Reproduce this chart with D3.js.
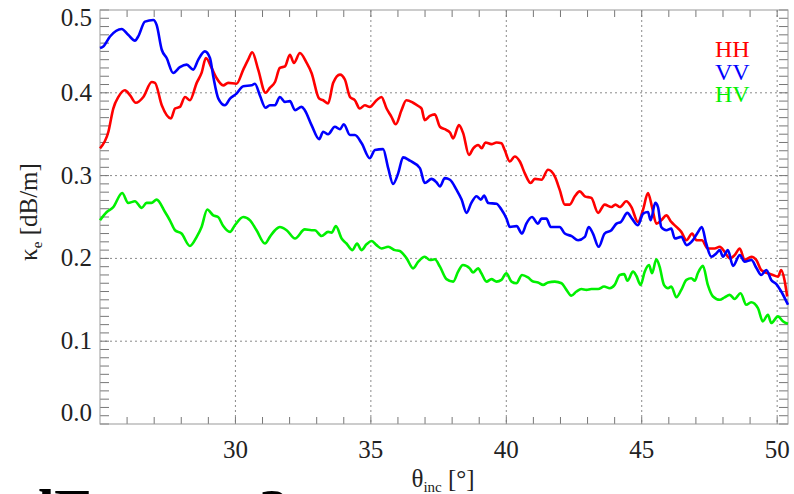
<!DOCTYPE html>
<html>
<head>
<meta charset="utf-8">
<script src="https://cdn.jsdelivr.net/npm/d3@7"></script>
<style>
  html, body { margin: 0; padding: 0; background: #fff; }
  svg { display: block; font-family: "Liberation Serif", "DejaVu Serif", serif; }
</style>
</head>
<body>
<script>
  // incidence angle [deg] / extinction coefficient [dB/m] pairs
  const hh = [
    [25.00, 0.333], [25.31, 0.353], [25.49, 0.381], [25.68, 0.395], [25.92, 0.403], [26.11, 0.397],
    [26.32, 0.388], [26.60, 0.395], [26.91, 0.413], [27.03, 0.412], [27.28, 0.385], [27.62, 0.369],
    [27.77, 0.381], [27.95, 0.383], [28.14, 0.395], [28.32, 0.391], [28.57, 0.412], [28.75, 0.424],
    [28.91, 0.442], [29.12, 0.430], [29.30, 0.418], [29.55, 0.409], [29.73, 0.412], [30.04, 0.411],
    [30.29, 0.428], [30.47, 0.440], [30.62, 0.449], [30.84, 0.428], [31.11, 0.400], [31.27, 0.406],
    [31.46, 0.413], [31.64, 0.430], [31.83, 0.432], [32.01, 0.446], [32.16, 0.436], [32.38, 0.448],
    [32.63, 0.436], [32.81, 0.424], [33.09, 0.393], [33.24, 0.391], [33.42, 0.387], [33.61, 0.412],
    [33.86, 0.422], [34.04, 0.416], [34.23, 0.395], [34.41, 0.391], [34.59, 0.381], [34.78, 0.385],
    [34.96, 0.383], [35.21, 0.391], [35.39, 0.395], [35.58, 0.381], [35.76, 0.371], [35.92, 0.362],
    [36.13, 0.379], [36.31, 0.391], [36.56, 0.388], [36.75, 0.384], [36.87, 0.381], [36.99, 0.367],
    [37.18, 0.372], [37.36, 0.374], [37.55, 0.359], [37.73, 0.356], [37.92, 0.352], [38.04, 0.345],
    [38.25, 0.361], [38.41, 0.351], [38.62, 0.325], [38.78, 0.333], [38.96, 0.337], [39.09, 0.333],
    [39.23, 0.340], [39.45, 0.338], [39.64, 0.340], [39.82, 0.339], [39.94, 0.331], [40.13, 0.317],
    [40.31, 0.323], [40.50, 0.317], [40.68, 0.303], [40.90, 0.291], [41.05, 0.296], [41.30, 0.295],
    [41.54, 0.307], [41.79, 0.299], [41.97, 0.283], [42.16, 0.265], [42.34, 0.265], [42.53, 0.275],
    [42.71, 0.281], [42.90, 0.275], [43.14, 0.273], [43.39, 0.255], [43.63, 0.265], [43.88, 0.262],
    [44.03, 0.265], [44.19, 0.262], [44.43, 0.269], [44.62, 0.262], [44.86, 0.244], [45.05, 0.259],
    [45.23, 0.279], [45.38, 0.262], [45.54, 0.242], [45.72, 0.246], [45.91, 0.252], [46.09, 0.244],
    [46.28, 0.238], [46.46, 0.232], [46.65, 0.222], [46.86, 0.230], [47.02, 0.222], [47.22, 0.222],
    [47.44, 0.212], [47.69, 0.212], [47.88, 0.214], [48.06, 0.208], [48.25, 0.200], [48.43, 0.204],
    [48.62, 0.212], [48.80, 0.198], [49.05, 0.202], [49.23, 0.198], [49.41, 0.186], [49.66, 0.182],
    [49.84, 0.180], [50.03, 0.178], [50.15, 0.186], [50.27, 0.174], [50.37, 0.154]
  ];

  const vv = [
    [25.00, 0.454], [25.12, 0.456], [25.37, 0.468], [25.80, 0.477], [26.04, 0.470], [26.29, 0.463],
    [26.41, 0.468], [26.66, 0.486], [26.97, 0.488], [27.09, 0.482], [27.28, 0.452], [27.46, 0.442],
    [27.70, 0.424], [27.95, 0.431], [28.20, 0.434], [28.44, 0.428], [28.63, 0.440], [28.87, 0.450],
    [29.06, 0.442], [29.18, 0.420], [29.37, 0.393], [29.61, 0.385], [29.80, 0.393], [30.04, 0.399],
    [30.29, 0.408], [30.60, 0.409], [30.72, 0.411], [30.90, 0.397], [31.11, 0.382], [31.27, 0.385],
    [31.46, 0.385], [31.64, 0.395], [31.83, 0.389], [32.01, 0.390], [32.20, 0.379], [32.44, 0.383],
    [32.56, 0.379], [32.81, 0.361], [33.09, 0.344], [33.24, 0.353], [33.42, 0.350], [33.67, 0.359],
    [33.86, 0.356], [34.00, 0.362], [34.23, 0.349], [34.41, 0.349], [34.66, 0.339], [34.96, 0.321],
    [35.15, 0.331], [35.45, 0.332], [35.64, 0.309], [35.82, 0.290], [36.01, 0.303], [36.19, 0.322],
    [36.44, 0.318], [36.81, 0.309], [36.99, 0.291], [37.24, 0.296], [37.42, 0.292], [37.55, 0.287],
    [37.73, 0.297], [37.92, 0.295], [38.16, 0.283], [38.35, 0.271], [38.53, 0.255], [38.71, 0.267],
    [38.90, 0.275], [39.06, 0.271], [39.18, 0.276], [39.33, 0.267], [39.64, 0.266], [39.82, 0.259],
    [40.01, 0.248], [40.13, 0.238], [40.38, 0.239], [40.58, 0.230], [40.74, 0.242], [40.95, 0.250],
    [41.17, 0.242], [41.30, 0.248], [41.48, 0.248], [41.64, 0.238], [41.97, 0.238], [42.16, 0.230],
    [42.41, 0.227], [42.65, 0.222], [42.90, 0.226], [43.04, 0.238], [43.20, 0.230], [43.41, 0.214],
    [43.63, 0.230], [43.88, 0.234], [44.07, 0.242], [44.23, 0.244], [44.47, 0.255], [44.64, 0.248],
    [44.86, 0.240], [45.05, 0.254], [45.23, 0.256], [45.33, 0.246], [45.50, 0.267], [45.60, 0.262],
    [45.72, 0.238], [45.91, 0.234], [46.09, 0.236], [46.22, 0.224], [46.46, 0.226], [46.66, 0.216],
    [46.89, 0.222], [47.08, 0.232], [47.22, 0.238], [47.38, 0.218], [47.57, 0.202], [47.75, 0.206],
    [47.88, 0.210], [48.00, 0.202], [48.18, 0.210], [48.37, 0.191], [48.62, 0.204], [48.80, 0.196],
    [49.05, 0.198], [49.24, 0.188], [49.41, 0.180], [49.60, 0.186], [49.78, 0.174], [49.97, 0.169],
    [50.15, 0.160], [50.40, 0.144]
  ];

  const hv = [
    [25.00, 0.246], [25.25, 0.256], [25.49, 0.262], [25.82, 0.279], [26.04, 0.267], [26.29, 0.269],
    [26.54, 0.261], [26.72, 0.267], [26.90, 0.267], [27.09, 0.271], [27.40, 0.256], [27.58, 0.246],
    [27.77, 0.234], [28.01, 0.230], [28.32, 0.215], [28.57, 0.226], [28.75, 0.238], [28.96, 0.259],
    [29.18, 0.252], [29.36, 0.250], [29.55, 0.239], [29.80, 0.232], [29.98, 0.240], [30.29, 0.250],
    [30.54, 0.246], [30.78, 0.234], [31.09, 0.218], [31.27, 0.226], [31.46, 0.234], [31.64, 0.238],
    [31.89, 0.234], [32.20, 0.224], [32.56, 0.235], [32.81, 0.234], [32.93, 0.234], [33.18, 0.227],
    [33.42, 0.232], [33.55, 0.231], [33.71, 0.239], [33.92, 0.224], [34.10, 0.218], [34.32, 0.210],
    [34.49, 0.218], [34.65, 0.210], [34.84, 0.217], [35.03, 0.221], [35.21, 0.216], [35.39, 0.212],
    [35.64, 0.214], [35.89, 0.210], [36.07, 0.209], [36.32, 0.200], [36.56, 0.188], [36.75, 0.196],
    [36.99, 0.202], [37.18, 0.198], [37.36, 0.199], [37.55, 0.190], [37.79, 0.175], [38.04, 0.172],
    [38.22, 0.184], [38.40, 0.192], [38.65, 0.188], [38.77, 0.183], [38.96, 0.188], [39.08, 0.182],
    [39.27, 0.172], [39.45, 0.175], [39.64, 0.172], [39.82, 0.174], [40.00, 0.182], [40.19, 0.172],
    [40.37, 0.170], [40.58, 0.180], [40.80, 0.177], [40.99, 0.172], [41.17, 0.171], [41.36, 0.168],
    [41.54, 0.171], [41.79, 0.172], [42.04, 0.170], [42.22, 0.162], [42.40, 0.155], [42.59, 0.160],
    [42.77, 0.163], [42.96, 0.162], [43.14, 0.163], [43.39, 0.163], [43.61, 0.166], [43.82, 0.164],
    [44.00, 0.168], [44.19, 0.180], [44.35, 0.181], [44.47, 0.173], [44.68, 0.184], [44.80, 0.179],
    [44.96, 0.168], [45.11, 0.184], [45.27, 0.192], [45.38, 0.182], [45.54, 0.199], [45.66, 0.190],
    [45.82, 0.168], [45.97, 0.164], [46.09, 0.166], [46.28, 0.153], [46.46, 0.162], [46.65, 0.174],
    [46.83, 0.176], [46.96, 0.173], [47.07, 0.182], [47.26, 0.191], [47.44, 0.168], [47.63, 0.154],
    [47.88, 0.150], [48.06, 0.153], [48.25, 0.156], [48.43, 0.151], [48.65, 0.158], [48.86, 0.144],
    [49.04, 0.147], [49.29, 0.140], [49.47, 0.124], [49.66, 0.132], [49.78, 0.122], [50.03, 0.130],
    [50.21, 0.124], [50.40, 0.121]
  ];

  const xMajor = [30, 35, 40, 45, 50];
  const yMajor = [0.0, 0.1, 0.2, 0.3, 0.4, 0.5];
  const yTickLabels = ["0.0", "0.1", "0.2", "0.3", "0.4", "0.5"];

  const series = [
    { name: "HH", values: hh, color: "#ff0000" },
    { name: "VV", values: vv, color: "#0000ff" },
    { name: "HV", values: hv, color: "#00f000" }
  ];

  const width = 794;
  const height = 494;
  const plotL = 100, plotR = 788, plotT = 10, plotB = 424;

  const x = d3.scaleLinear().domain([25, 50.4]).range([plotL, plotR]);
  const y = d3.scaleLinear().domain([0, 0.5]).range([plotB, plotT]);

  const svg = d3.select("body").append("svg")
    .attr("width", width)
    .attr("height", height);

  // dotted grid
  const grid = svg.append("g").attr("stroke", "#8a8a8a").attr("stroke-width", 1)
    .attr("stroke-dasharray", "2,3");
  grid.selectAll("line.gx").data(xMajor).enter().append("line")
    .attr("x1", (d) => x(d)).attr("x2", (d) => x(d))
    .attr("y1", plotT).attr("y2", plotB);
  grid.selectAll("line.gy").data(yMajor.slice(1, 5)).enter().append("line")
    .attr("x1", plotL).attr("x2", plotR)
    .attr("y1", (d) => y(d)).attr("y2", (d) => y(d));

  // minor ticks, inward, on all four sides
  const ticks = svg.append("g").attr("stroke", "#777").attr("stroke-width", 1);
  const yMinor = d3.range(0, 51).map((i) => i / 100);
  const xMinor = d3.range(26, 51);
  ticks.selectAll("line.yl").data(yMinor).enter().append("line")
    .attr("x1", plotL).attr("x2", plotL + 9)
    .attr("y1", (d) => y(d)).attr("y2", (d) => y(d));
  ticks.selectAll("line.yr").data(yMinor).enter().append("line")
    .attr("x1", plotR - 9).attr("x2", plotR)
    .attr("y1", (d) => y(d)).attr("y2", (d) => y(d));
  ticks.selectAll("line.xb").data(xMinor).enter().append("line")
    .attr("x1", (d) => x(d)).attr("x2", (d) => x(d))
    .attr("y1", plotB).attr("y2", plotB - 7);
  ticks.selectAll("line.xt").data(xMinor).enter().append("line")
    .attr("x1", (d) => x(d)).attr("x2", (d) => x(d))
    .attr("y1", plotT).attr("y2", plotT + 7);

  // frame
  svg.append("rect")
    .attr("x", plotL).attr("y", plotT)
    .attr("width", plotR - plotL).attr("height", plotB - plotT)
    .attr("fill", "none").attr("stroke", "#999").attr("stroke-width", 1);

  // curves
  const line = d3.line()
    .x((d) => x(d[0]))
    .y((d) => y(d[1]))
    .curve(d3.curveMonotoneX);

  svg.append("g").selectAll("path").data(series).enter().append("path")
    .attr("d", (d) => line(d.values))
    .attr("fill", "none")
    .attr("stroke", (d) => d.color)
    .attr("stroke-width", 2.6)
    .attr("stroke-linejoin", "round");

  // y tick labels (edge labels sit inside the frame like the original)
  svg.append("g").selectAll("text").data(yMajor).enter().append("text")
    .attr("x", 92)
    .attr("y", (d, i) => y(d) + 8 + (i === 0 ? -11 : 0) + (i === 5 ? 8 : 0))
    .attr("text-anchor", "end")
    .attr("font-size", 25)
    .attr("fill", "#222")
    .text((d, i) => yTickLabels[i]);

  // x tick labels
  svg.append("g").selectAll("text").data(xMajor).enter().append("text")
    .attr("x", (d) => x(d))
    .attr("y", 458)
    .attr("text-anchor", "middle")
    .attr("font-size", 25)
    .attr("fill", "#222")
    .text((d) => d);

  // axis titles
  const xt = svg.append("text")
    .attr("x", 443).attr("y", 487)
    .attr("text-anchor", "middle")
    .attr("font-size", 25)
    .attr("fill", "#222");
  xt.append("tspan").text("θ");
  xt.append("tspan").attr("font-size", 15).attr("dy", 5).text("inc");
  xt.append("tspan").attr("dy", -5).text(" [°]");

  const yt = svg.append("text")
    .attr("transform", "translate(37,212) rotate(-90)")
    .attr("text-anchor", "middle")
    .attr("font-size", 25)
    .attr("fill", "#222");
  yt.append("tspan").text("κ");
  yt.append("tspan").attr("font-size", 15).attr("dy", 5).text("e");
  yt.append("tspan").attr("dy", -5).text(" [dB/m]");

  // legend, stacked tightly as in the original
  svg.append("g").selectAll("text").data(series).enter().append("text")
    .attr("x", 715)
    .attr("y", (d, i) => 57 + i * 22.5)
    .attr("font-size", 24)
    .attr("fill", (d) => d.color)
    .text((d) => d.name);

  // caption text cut off at the bottom edge
  svg.append("text")
    .attr("x", 21).attr("y", 530)
    .attr("font-size", 60).attr("font-weight", "bold")
    .attr("fill", "#000")
    .text("dE");
  svg.append("text")
    .attr("x", 259).attr("y", 530)
    .attr("font-size", 60).attr("font-weight", "bold")
    .attr("fill", "#000")
    .text("3");
</script>
</body>
</html>
